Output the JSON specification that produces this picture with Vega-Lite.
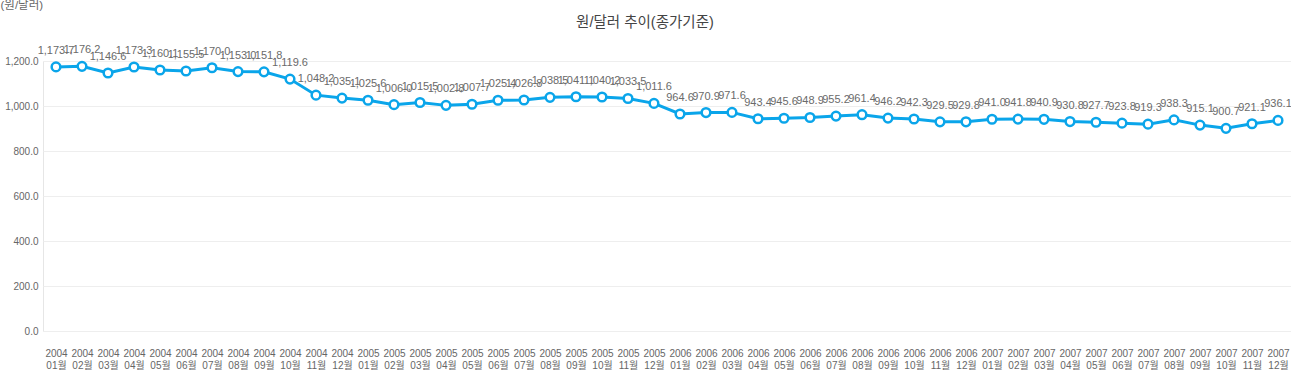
{
  "$schema": "https://vega.github.io/schema/vega-lite/v6.json",
  "width": 1248,
  "height": 270,
  "autosize": {"type": "none"},
  "padding": {"left": 43, "top": 61, "right": 0, "bottom": 47},
  "background": "white",
  "config": {
    "font": "Liberation Sans, Noto Sans CJK KR",
    "view": {"stroke": "#e6e6e6", "strokeWidth": 1}
  },
  "title": {
    "text": "원/달러 추이(종가기준)",
    "anchor": "middle",
    "dx": -22,
    "dy": 64,
    "offset": 33,
    "fontSize": 14.5,
    "fontWeight": "normal",
    "color": "#444444",
    "font": "Liberation Sans, Noto Sans CJK KR"
  },
  "data": {
    "values": [
      {"m": "2004 01월", "v": 1173.7}, {"m": "2004 02월", "v": 1176.2}, {"m": "2004 03월", "v": 1146.6}, {"m": "2004 04월", "v": 1173.3},
      {"m": "2004 05월", "v": 1160.1}, {"m": "2004 06월", "v": 1155.5}, {"m": "2004 07월", "v": 1170.0}, {"m": "2004 08월", "v": 1153.0},
      {"m": "2004 09월", "v": 1151.8}, {"m": "2004 10월", "v": 1119.6}, {"m": "2004 11월", "v": 1048.2}, {"m": "2004 12월", "v": 1035.1},
      {"m": "2005 01월", "v": 1025.6}, {"m": "2005 02월", "v": 1006.0}, {"m": "2005 03월", "v": 1015.5}, {"m": "2005 04월", "v": 1002.8},
      {"m": "2005 05월", "v": 1007.7}, {"m": "2005 06월", "v": 1025.4}, {"m": "2005 07월", "v": 1026.8}, {"m": "2005 08월", "v": 1038.5},
      {"m": "2005 09월", "v": 1041.1}, {"m": "2005 10월", "v": 1040.2}, {"m": "2005 11월", "v": 1033.5}, {"m": "2005 12월", "v": 1011.6},
      {"m": "2006 01월", "v": 964.6}, {"m": "2006 02월", "v": 970.9}, {"m": "2006 03월", "v": 971.6}, {"m": "2006 04월", "v": 943.4},
      {"m": "2006 05월", "v": 945.6}, {"m": "2006 06월", "v": 948.9}, {"m": "2006 07월", "v": 955.2}, {"m": "2006 08월", "v": 961.4},
      {"m": "2006 09월", "v": 946.2}, {"m": "2006 10월", "v": 942.3}, {"m": "2006 11월", "v": 929.5}, {"m": "2006 12월", "v": 929.8},
      {"m": "2007 01월", "v": 941.0}, {"m": "2007 02월", "v": 941.8}, {"m": "2007 03월", "v": 940.9}, {"m": "2007 04월", "v": 930.8},
      {"m": "2007 05월", "v": 927.7}, {"m": "2007 06월", "v": 923.8}, {"m": "2007 07월", "v": 919.3}, {"m": "2007 08월", "v": 938.3},
      {"m": "2007 09월", "v": 915.1}, {"m": "2007 10월", "v": 900.7}, {"m": "2007 11월", "v": 921.1}, {"m": "2007 12월", "v": 936.1}
    ]
  },
  "encoding": {
    "x": {
      "field": "m",
      "type": "ordinal",
      "sort": null,
      "scale": {"type": "point", "padding": 0.5},
      "axis": {
        "title": null,
        "labelAngle": 0,
        "labelExpr": "split(datum.label, ' ')",
        "labelLineHeight": 12,
        "labelFontSize": 10,
        "labelColor": "#666666",
        "labelPadding": 22,
        "labelBaseline": "middle",
        "ticks": false,
        "domain": false,
        "grid": false
      }
    },
    "y": {
      "field": "v",
      "type": "quantitative",
      "scale": {"domain": [0, 1200], "nice": false},
      "axis": {
        "title": "(원/달러)",
        "titleAngle": 0,
        "titleX": -43,
        "titleY": -56,
        "titleAlign": "left",
        "titleBaseline": "middle",
        "titleFontSize": 11.5,
        "titleFontWeight": "normal",
        "titleColor": "#666666",
        "values": [0, 200, 400, 600, 800, 1000, 1200],
        "format": ",.1f",
        "labelFontSize": 10,
        "labelColor": "#666666",
        "labelPadding": 5,
        "ticks": false,
        "domain": false,
        "gridColor": "#eeeeee"
      }
    }
  },
  "layer": [
    {
      "mark": {"type": "line", "color": "#0aa5ea", "strokeWidth": 3}
    },
    {
      "mark": {"type": "point", "shape": "circle", "filled": true, "fill": "white", "stroke": "#0aa5ea", "strokeWidth": 2.5, "size": 75, "opacity": 1}
    },
    {
      "mark": {"type": "text", "dy": -16, "fontSize": 11, "color": "#6a6a6a"},
      "encoding": {
        "text": {"field": "v", "type": "quantitative", "format": ",.1f"}
      }
    }
  ]
}
